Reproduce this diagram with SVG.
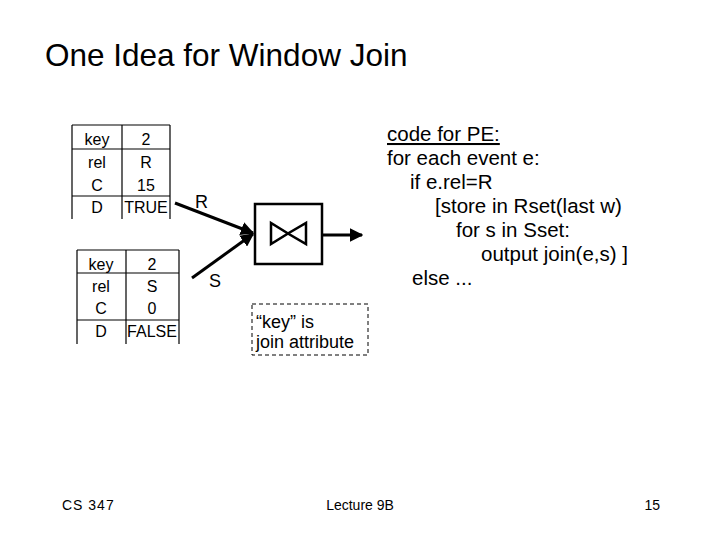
<svg xmlns="http://www.w3.org/2000/svg" width="720" height="540" viewBox="0 0 720 540">
<defs>
<style>
text{font-family:"Liberation Sans",Arial,sans-serif;fill:#000}
.t{font-size:16px;text-anchor:middle}
.c{font-size:20.5px}
.tl{stroke:#000;stroke-width:1.2;fill:none}
.ln{stroke:#000;stroke-width:3;fill:none}
.ft{font-size:14px}
</style>
<marker id="ah" viewBox="0 0 10 10" refX="9" refY="5" markerWidth="4.5" markerHeight="4.5" orient="auto" markerUnits="strokeWidth">
<path d="M0,0 L10,5 L0,10 z" fill="#000"/>
</marker>
</defs>
<rect width="720" height="540" fill="#fff"/>
<text x="45" y="66" style="font-size:31.5px">One Idea for Window Join</text>

<g id="tableR">
<path class="tl" d="M72,125 H170 M72,149 H170 M72,196 H170 M72,125 V219 M122,125 V219 M170,125 V219"/>
<text class="t" x="97" y="145">key</text><text class="t" x="146" y="145">2</text>
<text class="t" x="97" y="168">rel</text><text class="t" x="146" y="168">R</text>
<text class="t" x="97" y="191">C</text><text class="t" x="146" y="191">15</text>
<text class="t" x="97" y="213">D</text><text class="t" x="146" y="213">TRUE</text>
</g>

<g id="tableS">
<path class="tl" d="M77,250 H179 M77,273 H179 M77,320 H179 M77,250 V344 M126,250 V344 M179,250 V344"/>
<text class="t" x="101" y="270">key</text><text class="t" x="152" y="270">2</text>
<text class="t" x="101" y="292">rel</text><text class="t" x="152" y="292">S</text>
<text class="t" x="101" y="314">C</text><text class="t" x="152" y="314">0</text>
<text class="t" x="101" y="337">D</text><text class="t" x="152" y="337">FALSE</text>
</g>

<g id="join">
<rect x="255" y="204" width="67" height="60" fill="none" stroke="#000" stroke-width="2.5"/>
<path d="M271,223 L271,244 L288,233.5 Z M306,223 L306,244 L288,233.5 Z" fill="none" stroke="#000" stroke-width="2.5" stroke-linejoin="miter"/>
</g>

<g id="connectors">
<line class="ln" x1="175" y1="203" x2="253" y2="233" marker-end="url(#ah)"/>
<line class="ln" x1="192" y1="278" x2="253" y2="234" marker-end="url(#ah)"/>
<line class="ln" x1="322" y1="235" x2="362" y2="235" marker-end="url(#ah)"/>
</g>

<text x="195" y="208" style="font-size:18px">R</text>
<text x="209" y="287" style="font-size:18px">S</text>

<g id="note">
<rect x="252" y="304" width="116" height="51" fill="none" stroke="#000" stroke-width="1" stroke-dasharray="4,3"/>
<text x="256" y="328" style="font-size:18px">“key” is</text>
<text x="256" y="348" style="font-size:18px">join attribute</text>
</g>

<g id="code">
<text class="c" x="387" y="141" text-decoration="underline">code for PE:</text>
<text class="c" x="387" y="165">for each event e:</text>
<text class="c" x="410" y="189">if e.rel=R</text>
<text class="c" x="435" y="213">[store in Rset(last w)</text>
<text class="c" x="456" y="237">for s in Sset:</text>
<text class="c" x="481" y="261">output join(e,s) ]</text>
<text class="c" x="412" y="285">else ...</text>
</g>

<text class="ft" x="62" y="510" letter-spacing="1">CS 347</text>
<text class="ft" x="360" y="510" text-anchor="middle">Lecture 9B</text>
<text class="ft" x="660" y="510" text-anchor="end">15</text>
</svg>
